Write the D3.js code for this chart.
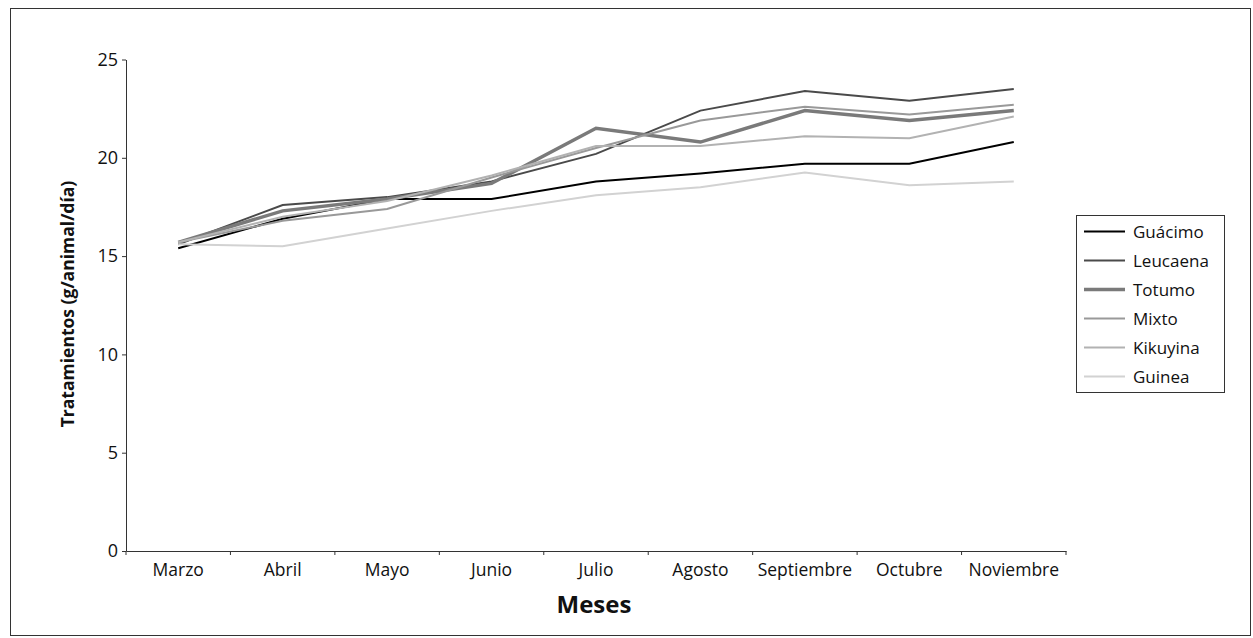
<!DOCTYPE html>
<html>
<head>
<meta charset="utf-8">
<script src="https://cdn.jsdelivr.net/npm/d3@7"></script>
<style>
  body { margin: 0; background: #fff; }
  text { font-family: "Open Sans", sans-serif; fill: #111; }
</style>
</head>
<body>
<div id="vis"></div>
<script>
// datos
var meses = ["Marzo", "Abril", "Mayo", "Junio", "Julio", "Agosto", "Septiembre", "Octubre", "Noviembre"];
var guacimo  = [15.4, 16.9, 17.9, 17.9, 18.8, 19.2, 19.7, 19.7, 20.8];
var leucaena = [15.6, 17.6, 18.0, 18.8, 20.2, 22.4, 23.4, 22.9, 23.5];
var totumo   = [15.7, 17.3, 17.9, 18.7, 21.5, 20.8, 22.4, 21.9, 22.4];
var mixto    = [15.7, 16.8, 17.4, 19.0, 20.5, 21.9, 22.6, 22.2, 22.7];
var kikuyina = [15.7, 17.0, 17.8, 19.1, 20.6, 20.6, 21.1, 21.0, 22.1];
var guinea   = [15.6, 15.5, 16.4, 17.3, 18.1, 18.5, 19.25, 18.6, 18.8];
var yTicks = [0, 5, 10, 15, 20, 25];

var series = [
  { name: "Guácimo",  values: guacimo,  color: "#000000", width: 2 },
  { name: "Leucaena", values: leucaena, color: "#4a4a4a", width: 2 },
  { name: "Totumo",   values: totumo,   color: "#7a7a7a", width: 3.5 },
  { name: "Mixto",    values: mixto,    color: "#999999", width: 2 },
  { name: "Kikuyina", values: kikuyina, color: "#b2b2b2", width: 2 },
  { name: "Guinea",   values: guinea,   color: "#d2d2d2", width: 2 }
];

var w = 1253;
var h = 638;

var svg = d3.select("#vis").append("svg").attr("width", w).attr("height", h);

// marco exterior
svg.append("rect")
  .attr("x", 10.5).attr("y", 8.5)
  .attr("width", 1240).attr("height", 627)
  .attr("fill", "none").attr("stroke", "#333").attr("stroke-width", 1);

var x = d3.scaleBand().domain(meses).range([126, 1066]).padding(0);
var y = d3.scaleLinear().domain([0, 25]).range([551, 59.5]);

// eje y
var yAxis = svg.append("g")
  .attr("transform", "translate(126,0)")
  .call(d3.axisLeft(y).tickValues(yTicks).tickSize(4).tickSizeOuter(0));
yAxis.select(".domain").attr("stroke", "#333");
yAxis.selectAll(".tick line").attr("stroke", "#333");
yAxis.selectAll(".tick text")
  .attr("x", -8)
  .style("font-size", "18px")
  .style("font-family", "Open Sans")
  .attr("fill", "#111");

// eje x: etiquetas centradas, marcas entre categorias
var xAxis = svg.append("g")
  .attr("transform", "translate(0," + y(0) + ")")
  .call(d3.axisBottom(x).tickSize(0).tickSizeOuter(0));
xAxis.select(".domain").attr("stroke", "#333");
xAxis.selectAll(".tick text")
  .attr("y", 13)
  .attr("dy", "0.71em")
  .style("font-size", "17.5px")
  .style("font-family", "Open Sans")
  .attr("fill", "#111");

var bordes = meses.map(function (m) { return x(m); }).concat([x.range()[1]]);
svg.append("g").selectAll("line")
  .data(bordes)
  .enter()
  .append("line")
  .attr("x1", function (d) { return d; })
  .attr("x2", function (d) { return d; })
  .attr("y1", y(0))
  .attr("y2", y(0) + 4)
  .attr("stroke", "#333");

// titulos
svg.append("text")
  .attr("x", 594).attr("y", 613)
  .attr("text-anchor", "middle")
  .style("font-size", "24px").style("font-weight", "bold")
  .text("Meses");

svg.append("text")
  .attr("transform", "translate(74,304) rotate(-90)")
  .attr("text-anchor", "middle")
  .style("font-size", "17.5px").style("font-weight", "bold")
  .text("Tratamientos (g/animal/día)");

// lineas
var line = d3.line()
  .x(function (d, i) { return x(meses[i]) + x.bandwidth() / 2; })
  .y(function (d) { return y(d); });

svg.append("g").selectAll("path")
  .data(series)
  .enter()
  .append("path")
  .attr("d", function (s) { return line(s.values); })
  .attr("fill", "none")
  .attr("stroke", function (s) { return s.color; })
  .attr("stroke-width", function (s) { return s.width; })
  .attr("stroke-linejoin", "miter");

// leyenda
var legend = svg.append("g").attr("transform", "translate(1076,215)");
legend.append("rect")
  .attr("x", 0.5).attr("y", 0.5)
  .attr("width", 148).attr("height", 177)
  .attr("fill", "#fff").attr("stroke", "#333");

var items = legend.selectAll("g.item")
  .data(series)
  .enter()
  .append("g")
  .attr("class", "item")
  .attr("transform", function (s, i) { return "translate(0," + (16.5 + i * 29) + ")"; });

items.append("line")
  .attr("x1", 8).attr("x2", 49)
  .attr("y1", 0).attr("y2", 0)
  .attr("stroke", function (s) { return s.color; })
  .attr("stroke-width", function (s) { return s.width; });

items.append("text")
  .attr("x", 57).attr("y", 0)
  .attr("dy", "0.36em")
  .style("font-size", "17px")
  .text(function (s) { return s.name; });
</script>
</body>
</html>
